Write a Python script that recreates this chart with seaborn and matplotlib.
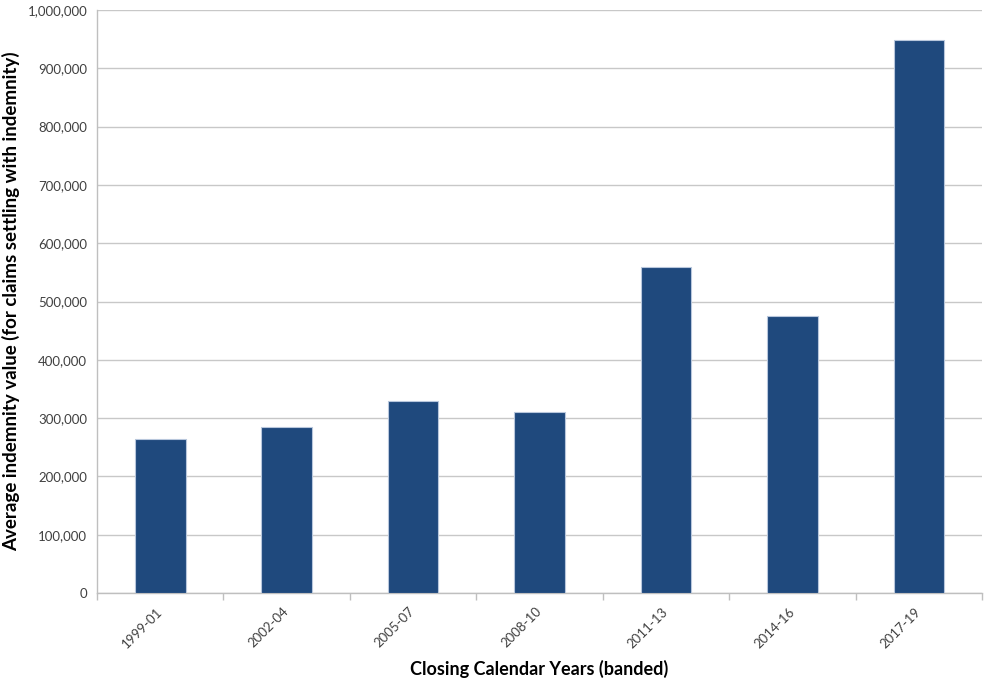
import matplotlib
matplotlib.use("Agg")
import matplotlib.pyplot as plt
import matplotlib.ticker as mticker
import seaborn as sns
import pandas as pd

# Average indemnity by banded closing year
year_bands = ["1999-01", "2002-04", "2005-07", "2008-10", "2011-13", "2014-16", "2017-19"]
avg_indemnity = [265000, 284000, 330000, 310000, 560000, 475000, 948000]

df = pd.DataFrame({"band": year_bands, "value": avg_indemnity})

sns.set_theme(style="white")
plt.rcParams["font.family"] = ["Lato", "DejaVu Sans"]

fig = plt.figure(figsize=(9.85, 6.79), dpi=100)
ax = fig.add_axes([97 / 985, 1 - 593 / 679, 885 / 985, 583 / 679])

sns.barplot(data=df, x="band", y="value", color="#1F497D", width=0.4,
            edgecolor="#B8C7DC", linewidth=0.8, saturation=1, ax=ax, zorder=3)

ax.set_ylim(0, 1_000_000)
ax.set_xlim(-0.5, len(year_bands) - 0.5)
ax.yaxis.set_major_locator(mticker.MultipleLocator(100_000))
ax.yaxis.set_major_formatter(mticker.FuncFormatter(lambda v, p: f"{int(v):,}"))
ax.grid(axis="y", color="#C8C8C8", linewidth=1.0, zorder=0)
ax.set_axisbelow(True)

for side in ["top", "right"]:
    ax.spines[side].set_visible(False)
for side in ["left", "bottom"]:
    ax.spines[side].set_color("#BFBFBF")
    ax.spines[side].set_linewidth(1.0)

# category-boundary tick marks on x, short outward ticks on y
ax.set_xticks(range(len(year_bands)))
ax.set_xticklabels(year_bands, rotation=45, ha="right", va="center",
                   rotation_mode="anchor", fontsize=9.5, color="#404040")
ax.xaxis.set_minor_locator(mticker.FixedLocator([i - 0.5 for i in range(len(year_bands) + 1)]))
ax.tick_params(axis="x", which="major", length=0, pad=12)
ax.tick_params(axis="x", which="minor", length=5, color="#BFBFBF", width=1, direction="out")
ax.tick_params(axis="y", length=4, color="#BFBFBF", width=1, direction="out",
               labelsize=9.5, labelcolor="#404040", pad=3)
ax.tick_params(axis="x", bottom=True, which="both")

ax.set_xlabel("Closing Calendar Years (banded)", fontsize=13, fontweight="bold",
              color="#000000", labelpad=7)
ax.set_ylabel("Average indemnity value (for claims settling with indemnity)", fontsize=13.5,
              fontweight="bold", color="#000000", labelpad=5)

fig.savefig("out.png", dpi=100, facecolor="white")
